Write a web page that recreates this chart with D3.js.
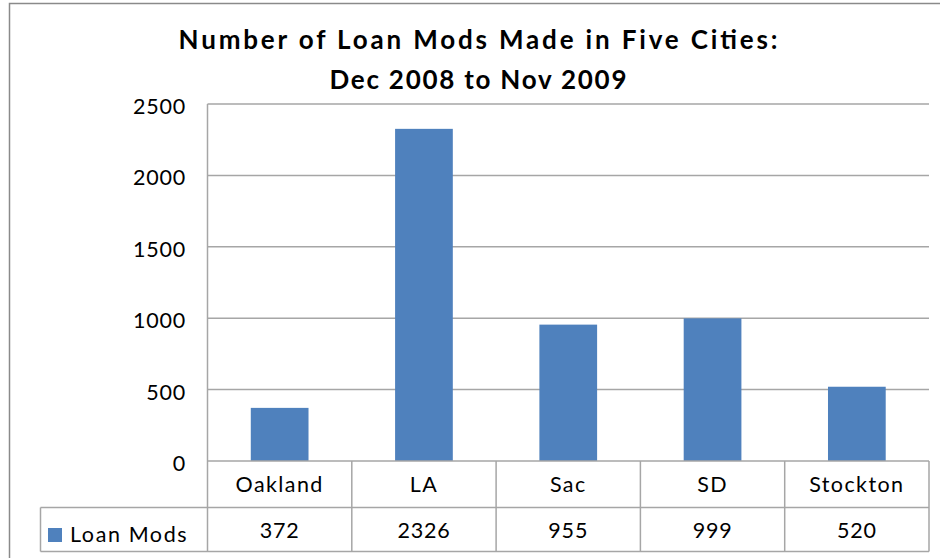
<!DOCTYPE html>
<html>
<head>
<meta charset="utf-8">
<script src="https://cdn.jsdelivr.net/npm/d3@7/dist/d3.min.js"></script>
<style>
  html, body { margin: 0; padding: 0; background: #fff; }
  svg { display: block; }
  text { font-family: Lato, "Open Sans", sans-serif; fill: #000; }
</style>
</head>
<body>
<svg id="chart" width="940" height="558"></svg>
<script>
const titleLines = ["Number of Loan Mods Made in Five Cities:", "Dec 2008 to Nov 2009"];
const categories = ["Oakland", "LA", "Sac", "SD", "Stockton"];
const seriesName = "Loan Mods";
const values = [372, 2326, 955, 999, 520];
const yTicks = [0, 500, 1000, 1500, 2000, 2500];

const svg = d3.select("#chart");
const plot = { left: 207.5, right: 929, top: 104, bottom: 461 };
const tableRow1Bottom = 507.5, tableBottom = 551.5, legendLeft = 40.5;
const gridColor = "#a6a6a6";
const barColor = "#4f81bd";
const labelSize = 21.5;

// outer frame (extends past the picture at right and bottom)
svg.append("rect")
  .attr("x", 9.5).attr("y", 3.5).attr("width", 960).attr("height", 600)
  .attr("fill", "none").attr("stroke", "#8a8a8a").attr("stroke-width", 1.5);

const x = d3.scaleBand().domain(categories).range([plot.left, plot.right]).paddingInner(0).paddingOuter(0);
const y = d3.scaleLinear().domain([0, 2500]).range([plot.bottom, plot.top]);

// gridlines
svg.append("g").selectAll("line").data(yTicks.filter(d => d > 0)).join("line")
  .attr("x1", plot.left).attr("x2", plot.right)
  .attr("y1", d => y(d)).attr("y2", d => y(d))
  .attr("stroke", gridColor).attr("stroke-width", 1.5);

// bars
const barW = x.bandwidth() * 0.4;
svg.append("g").selectAll("rect").data(values).join("rect")
  .attr("x", (d, i) => x(categories[i]) + (x.bandwidth() - barW) / 2)
  .attr("width", barW)
  .attr("y", d => y(d))
  .attr("height", d => y(0) - y(d))
  .attr("fill", barColor);

// y axis labels via d3 axis
const yAxis = d3.axisLeft(y).tickValues(yTicks).tickSize(0).tickPadding(0).tickFormat(d3.format("d"));
const gy = svg.append("g").attr("transform", `translate(${186},0)`).call(yAxis);
gy.select(".domain").remove();
gy.selectAll("text")
  .attr("font-size", labelSize).attr("font-family", "Lato, sans-serif")
  .attr("letter-spacing", 0.8)
  .attr("dy", null).attr("y", 9.5).attr("x", 0)
  .attr("fill", "#000");

// table lines
const tbl = svg.append("g").attr("stroke", gridColor).attr("stroke-width", 1.5).attr("fill", "none");
tbl.append("line").attr("x1", plot.left).attr("x2", plot.left).attr("y1", plot.top).attr("y2", tableBottom);
tbl.append("line").attr("x1", plot.left).attr("x2", plot.right).attr("y1", y(0)).attr("y2", y(0));
tbl.append("line").attr("x1", legendLeft).attr("x2", plot.right).attr("y1", tableRow1Bottom).attr("y2", tableRow1Bottom);
tbl.append("line").attr("x1", legendLeft).attr("x2", plot.right).attr("y1", tableBottom).attr("y2", tableBottom);
tbl.append("line").attr("x1", legendLeft).attr("x2", legendLeft).attr("y1", tableRow1Bottom).attr("y2", tableBottom);
tbl.selectAll("line.col").data(categories).join("line").attr("class", "col")
  .attr("x1", d => x(d) + x.bandwidth()).attr("x2", d => x(d) + x.bandwidth())
  .attr("y1", y(0)).attr("y2", tableBottom);

// category row
svg.append("g").selectAll("text").data(categories).join("text")
  .attr("x", d => x(d) + x.bandwidth() / 2)
  .attr("y", 491.5)
  .attr("text-anchor", "middle")
  .attr("font-size", labelSize).attr("letter-spacing", 1.4)
  .text(d => d);

// value row
svg.append("g").selectAll("text").data(values).join("text")
  .attr("x", (d, i) => x(categories[i]) + x.bandwidth() / 2)
  .attr("y", 538)
  .attr("text-anchor", "middle")
  .attr("font-size", labelSize).attr("letter-spacing", 0.8)
  .text(d => d);

// legend key in table
svg.append("rect").attr("x", 48).attr("y", 528).attr("width", 14).attr("height", 14).attr("fill", barColor);
svg.append("text").attr("x", 70).attr("y", 541.5).attr("font-size", labelSize).attr("letter-spacing", 1.6).text(seriesName);

// title
const titleWidths = [599, 297];
svg.append("g").selectAll("text").data(titleLines).join("text")
  .attr("x", 478)
  .attr("y", (d, i) => i === 0 ? 49 : 88.5)
  .attr("text-anchor", "middle")
  .attr("font-size", 26).attr("font-weight", "bold")
  .attr("textLength", (d, i) => titleWidths[i])
  .attr("lengthAdjust", "spacing")
  .text(d => d);
</script>
</body>
</html>
